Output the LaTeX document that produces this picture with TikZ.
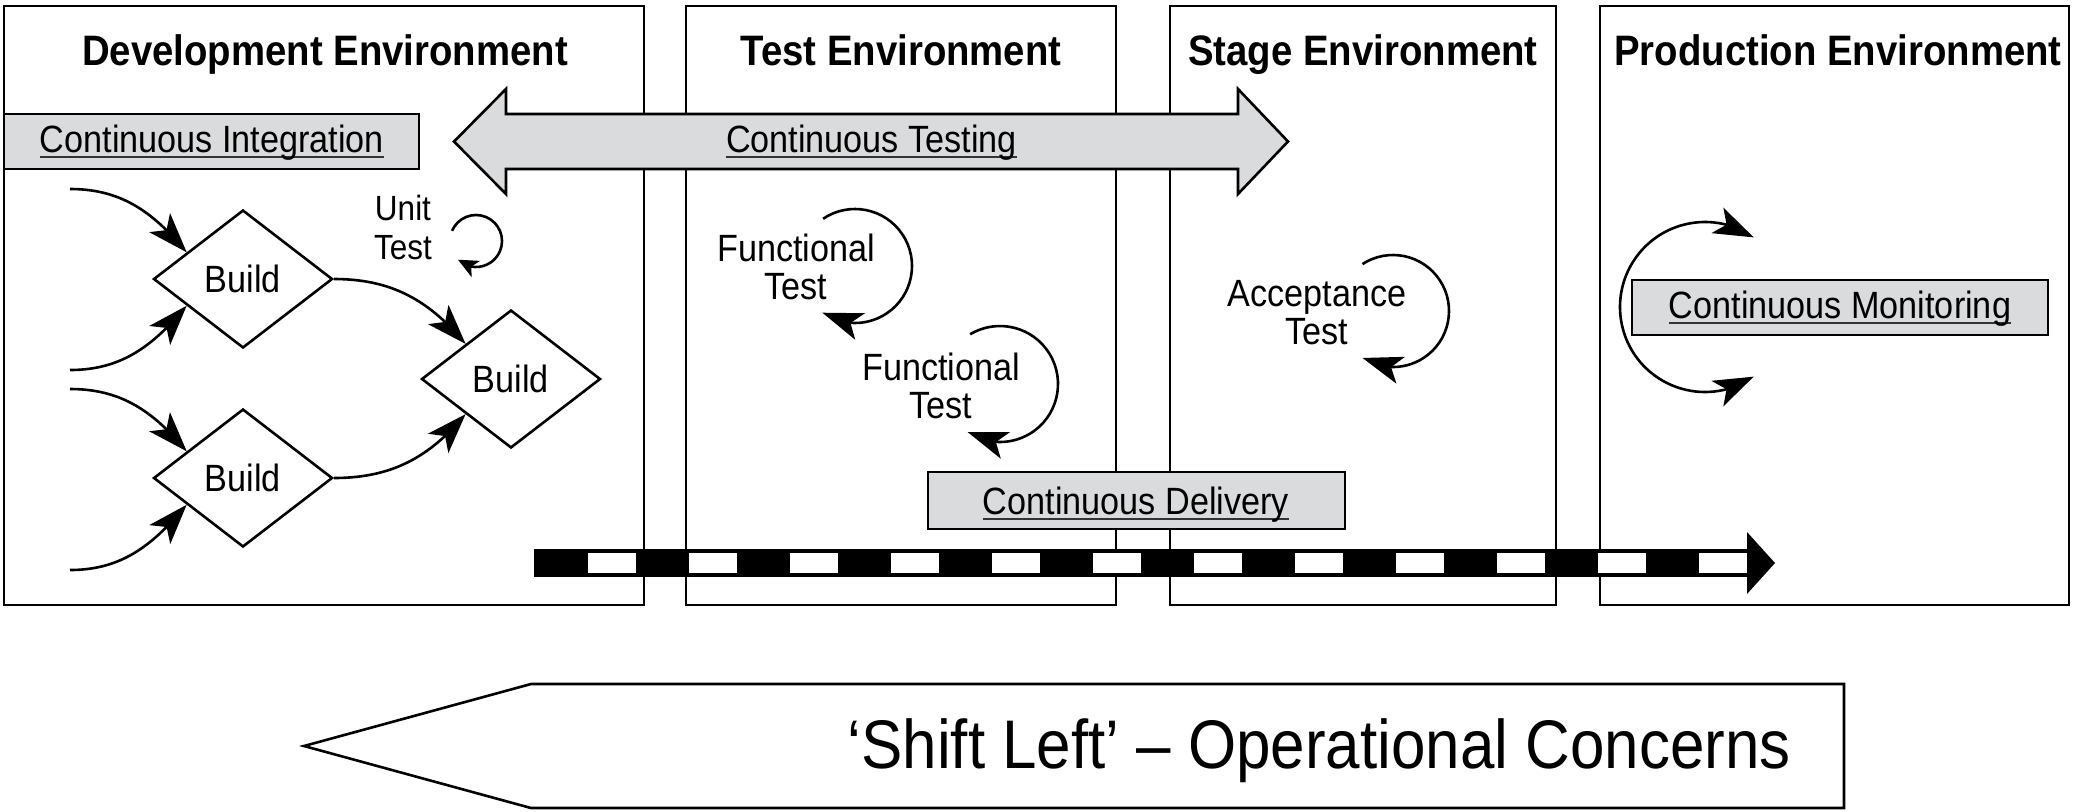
\documentclass[tikz,border=0pt]{standalone}
\usepackage{fontspec}
\setmainfont{Liberation Sans}[FakeStretch=0.9]
\usetikzlibrary{arrows.meta,bending,calc,shapes.geometric}
\definecolor{boxgray}{RGB}{218,219,221}
\newsavebox\ulbox
\newcommand\ulx[1]{\sbox\ulbox{#1}\rlap{\color{black!80}\rule[-3pt]{\wd\ulbox}{1pt}}\usebox\ulbox}
\begin{document}
\begin{tikzpicture}[x=0.5pt,y=-0.5pt,line width=1.3pt,
  title/.style={font=\fontsize{21.3}{24}\selectfont\bfseries,anchor=base,inner sep=0pt},
  lbl/.style={font=\fontsize{19}{19}\selectfont,anchor=base,inner sep=0pt},
  graybox/.style={draw,fill=boxgray},
  build/.style={diamond,draw,minimum width=89.5pt,minimum height=69pt,inner sep=0pt,font=\fontsize{19}{19}\selectfont},
  twoline/.style={align=center,anchor=north,inner sep=0pt,font=\fontsize{19}{19}\selectfont},
  bigtip/.style={-{Stealth[length=20pt,width=14pt,inset=5pt,flex]}},
  smalltip/.style={-{Stealth[length=10pt,width=9pt,inset=2.5pt,flex]}},
  bothtip/.style={{Stealth[length=20pt,width=14pt,inset=5pt,flex]}-{Stealth[length=20pt,width=14pt,inset=5pt,flex]}}
]
\useasboundingbox (0,0) rectangle (2073,811);

% environment boxes
\draw (4,6) rectangle (644,605);
\draw (686,6) rectangle (1116,605);
\draw (1170,6) rectangle (1556,605);
\draw (1600,6) rectangle (2069,605);

\node[title] (tdev) at (325,65) {Development Environment};
\node[title] (ttest) at (901,65) {Test Environment};
\node[title] (tstage) at (1363,65) {Stage Environment};
\node[title] (tprod) at (1838,65) {Production Environment};

% continuous testing double arrow
\draw[graybox] (454,141.5) -- (506,89) -- (506,114) -- (1238,114) -- (1238,89) -- (1288,141.5)
  -- (1238,194) -- (1238,169) -- (506,169) -- (506,194) -- cycle;
\node[lbl] (ct) at (871.5,152) {\ulx{Continuous Testing}};

% gray label boxes
\draw[graybox] (4,114) rectangle (419,169);
\node[lbl] (ci) at (212,152) {\ulx{Continuous Integration}};
\draw[graybox] (928,472) rectangle (1345,529);
\node[lbl] (cd) at (1136,514) {\ulx{Continuous Delivery}};
\draw[graybox] (1632,280) rectangle (2048,335);
\node[lbl] (cm) at (1840,318) {\ulx{Continuous Monitoring}};

% dashed pipeline arrow
\fill (534,549) rectangle (1747,577);
\foreach \k in {0,...,11} \fill[white] ({588+101*\k},553) rectangle ({636+101*\k},573);
\fill (1747,532) -- (1775,563) -- (1747,594) -- cycle;

% builds
\node[build] (b1) at (243,279) {Build};
\node[build] (b2) at (243,478) {Build};
\node[build] (b3) at (511,379) {Build};

\coordinate (s1) at (70,189);
\coordinate (s2) at (70,370);
\coordinate (s3) at (70,389);
\coordinate (s4) at (70,570);
\draw[bigtip] (s1) to[out=0,in=130] ($(b1.west)!0.38!(b1.north)$);
\draw[bigtip] (s2) to[out=0,in=230] ($(b1.west)!0.38!(b1.south)$);
\draw[bigtip] (s3) to[out=0,in=130] ($(b2.west)!0.38!(b2.north)$);
\draw[bigtip] (s4) to[out=0,in=230] ($(b2.west)!0.38!(b2.south)$);
\draw[bigtip] (b1.east) to[out=0,in=130] (b3.north west);
\draw[bigtip] (b2.east) to[out=0,in=230] (b3.south west);

% unit test
\node[twoline,font=\fontsize{17.5}{19.5}\selectfont] (ut) at (403,194) {Unit\\Test};
\coordinate (uc) at (476,241);
\draw[smalltip] (uc) ++(157:13pt) arc[start angle=157,end angle=-134,radius=13pt];

% functional tests
\node[twoline] (ft1) at (796,233) {Functional\\Test};
\coordinate (f1c) at (855,266);
\draw[bigtip] (f1c) ++(124:28.5pt) arc[start angle=124,end angle=-125,radius=28.5pt];

\node[twoline] (ft2) at (941,352) {Functional\\Test};
\coordinate (f2c) at (1000,384);
\draw[bigtip] (f2c) ++(121:29pt) arc[start angle=121,end angle=-124,radius=29pt];

% acceptance test
\node[twoline] (at) at (1317,279) {Acceptance\\Test};
\coordinate (ac) at (1393,311);
\draw[bigtip] (ac) ++(123:28pt) arc[start angle=123,end angle=-123,radius=28pt];

% monitoring loop
\coordinate (mc) at (1705,307);
\draw[bothtip] (mc) ++(55:42.5pt) arc[start angle=55,end angle=305,radius=42.5pt];

% shift left arrow
\draw (531,684) -- (1844,684) -- (1844,808) -- (531,808) -- (304,746) -- cycle;
\node[anchor=base east,inner sep=0pt,font=\fontsize{34.4}{36}\selectfont] (shift) at (1792,768) {‘Shift Left’ – Operational Concerns};
\end{tikzpicture}
\end{document}
